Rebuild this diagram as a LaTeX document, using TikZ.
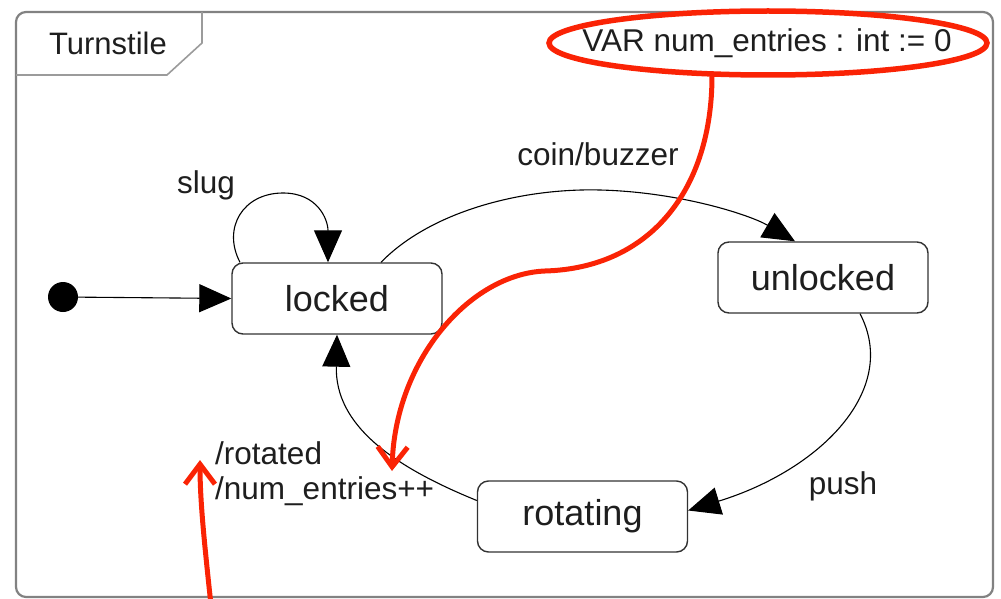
\documentclass[tikz,border=0pt]{standalone}
\usepackage{fontspec}
\setmainfont{Liberation Sans}
\usetikzlibrary{arrows.meta,shapes.geometric,calc}
\definecolor{framegray}{RGB}{130,130,130}
\definecolor{boxgray}{RGB}{50,50,50}
\definecolor{txt}{RGB}{30,30,30}
\definecolor{annored}{RGB}{250,35,5}
\tikzset{
  statebox/.style={draw=boxgray, line width=1.4pt, rounded corners=11pt, minimum width=210pt, minimum height=71pt, inner sep=0pt, font=\fontsize{36}{40}\selectfont, text=txt},
  lbl/.style={font=\fontsize{31.5}{35}\selectfont, text=txt, inner sep=0pt},
  trans/.style={draw=black, line width=1.1pt, -{Triangle[length=32pt,width=28pt]}},
  anno/.style={draw=annored, line width=5pt, line cap=round, -{Straight Barb[length=20pt,width=30pt]}}
}
\begin{document}
\begin{tikzpicture}[x=1pt,y=-1pt]
\useasboundingbox (0,0) rectangle (1001,599);
% frame
\draw[framegray, line width=2.2pt, rounded corners=10pt] (16,12) rectangle (993,597);
\draw[framegray!80, line width=1.6pt] (16,75) -- (167,75) -- (202,43) -- (202,12);
\node[lbl, font=\fontsize{31}{35}\selectfont] (title) at (108,43) {Turnstile};
\node[lbl] (var) at (767,43) {VAR num\_entries : int := 0};
% states
\node[statebox] (locked) at (337,298.5) {locked};
\node[statebox] (unlocked) at (823,277.5) {unlocked};
\node[statebox] (rotating) at (582.5,516.5) {rotating};
\node[circle, fill=black, minimum size=30pt, inner sep=0pt] (init) at (63,297) {};
% transitions
\draw[trans] (init) -- (locked.west);
\draw[trans] ([xshift=-97pt]locked.north) .. controls (222,228) and (243,193) .. (283,193)
   .. controls (318,193) and (328,220) .. ([xshift=-9pt]locked.north);
\node[lbl] (slug) at (206,185) {slug};
\draw[trans] ([xshift=44pt]locked.north) .. controls (430,212) and (520,188) .. (600,190)
   .. controls (680,192) and (750,215) .. ([xshift=-28pt]unlocked.north);
\node[lbl] (coin) at (598,154) {coin/buzzer};
\draw[trans] ([xshift=37pt]unlocked.south) .. controls (900,390) and (820,470) .. ([yshift=6pt]rotating.east);
\node[lbl] (push) at (843,486) {push};
\draw[trans] ([yshift=16pt]rotating.west) .. controls (392,466) and (335,425) .. (locked.south);
\node[lbl, align=left, anchor=west] (rot) at (215,474) {/rotated\\/num\_entries++};
% annotations
\node[ellipse, draw=annored, line width=5.5pt, minimum width=438pt, minimum height=64pt] (ring) at (768,43) {};
\coordinate (tipA) at (392,471);
\coordinate (tipB) at (200,460);
\coordinate (tailB) at (211,605);
\draw[anno] ([xshift=-56pt,yshift=2pt]ring.south) .. controls (712,190) and (650,268) .. (545,271)
   .. controls (470,274) and (395,360) .. (tipA);
\draw[anno] (tailB) .. controls (204,540) and (200,500) .. (tipB);
\end{tikzpicture}
\end{document}
